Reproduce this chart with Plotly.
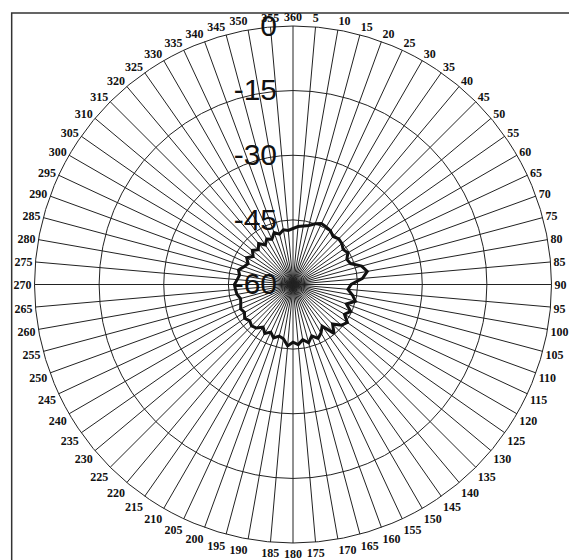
import plotly.graph_objects as go

# Measured radiation pattern, relative level (dB) every 5 degrees
angles = list(range(0, 360, 5))
level_db = [
    -47.0, -46.5, -46.2, -45.8, -45.0, -44.4, -44.6, -44.8, -45.5, -45.0,
    -45.2, -45.8, -45.3, -46.2, -45.8, -43.5, -42.5, -43.8, -46.5, -47.2,
    -46.0, -45.0, -46.8, -45.2, -46.2, -44.6, -45.3, -47.0, -45.2, -48.2,
    -47.0, -46.2, -47.3, -46.0, -47.0, -46.0, -46.6, -45.7, -47.2, -47.6,
    -46.8, -47.8, -46.9, -47.9, -46.8, -46.4, -46.9, -46.3, -47.0, -46.6,
    -47.1, -47.4, -46.8, -46.6, -46.4, -47.0, -47.4, -46.9, -47.9, -48.5,
    -47.6, -48.7, -47.7, -48.6, -47.6, -48.8, -47.8, -48.4, -47.2, -47.9,
    -47.1, -47.4,
]

# Axis labelling
angle_ticks = list(range(0, 360, 5))
angle_labels = ["360"] + [str(a) for a in range(5, 360, 5)]
level_ticks = [-60, -45, -30, -15, 0]
level_labels = ["-60", "-45", "-30", "-15", "0"]

fig = go.Figure()
fig.add_trace(go.Scatterpolar(
    theta=angles + angles[:1],
    r=level_db + level_db[:1],
    mode="lines",
    line=dict(color="#111111", width=3),
    showlegend=False,
    hoverinfo="skip",
))

fig.update_layout(
    width=569,
    height=560,
    margin=dict(l=33, r=16, t=26, b=17),
    paper_bgcolor="white",
    plot_bgcolor="white",
    polar=dict(
        bgcolor="white",
        angularaxis=dict(
            rotation=90,
            direction="clockwise",
            tickmode="array",
            tickvals=angle_ticks,
            ticktext=angle_labels,
            ticks="",
            showline=True,
            linecolor="#222222",
            linewidth=1,
            gridcolor="#222222",
            gridwidth=1,
            tickfont=dict(family="Liberation Serif", size=12, color="#111111", weight="bold"),
        ),
        radialaxis=dict(
            range=[-60, 0],
            tickmode="array",
            tickvals=level_ticks,
            ticktext=level_labels,
            angle=90,
            side="counterclockwise",
            tickangle=90,
            ticks="outside",
            ticklen=5,
            tickcolor="rgba(0,0,0,0)",
            showline=False,
            gridcolor="#222222",
            gridwidth=1,
            tickfont=dict(family="Liberation Sans", size=30, color="#111111"),
        ),
    ),
    shapes=[dict(
        type="rect", xref="paper", yref="paper",
        x0=-0.041, x1=1.2, y0=-0.2, y1=1.025,
        line=dict(color="#333333", width=1.5),
        layer="below",
    )],
)

fig.write_html("out.html")
